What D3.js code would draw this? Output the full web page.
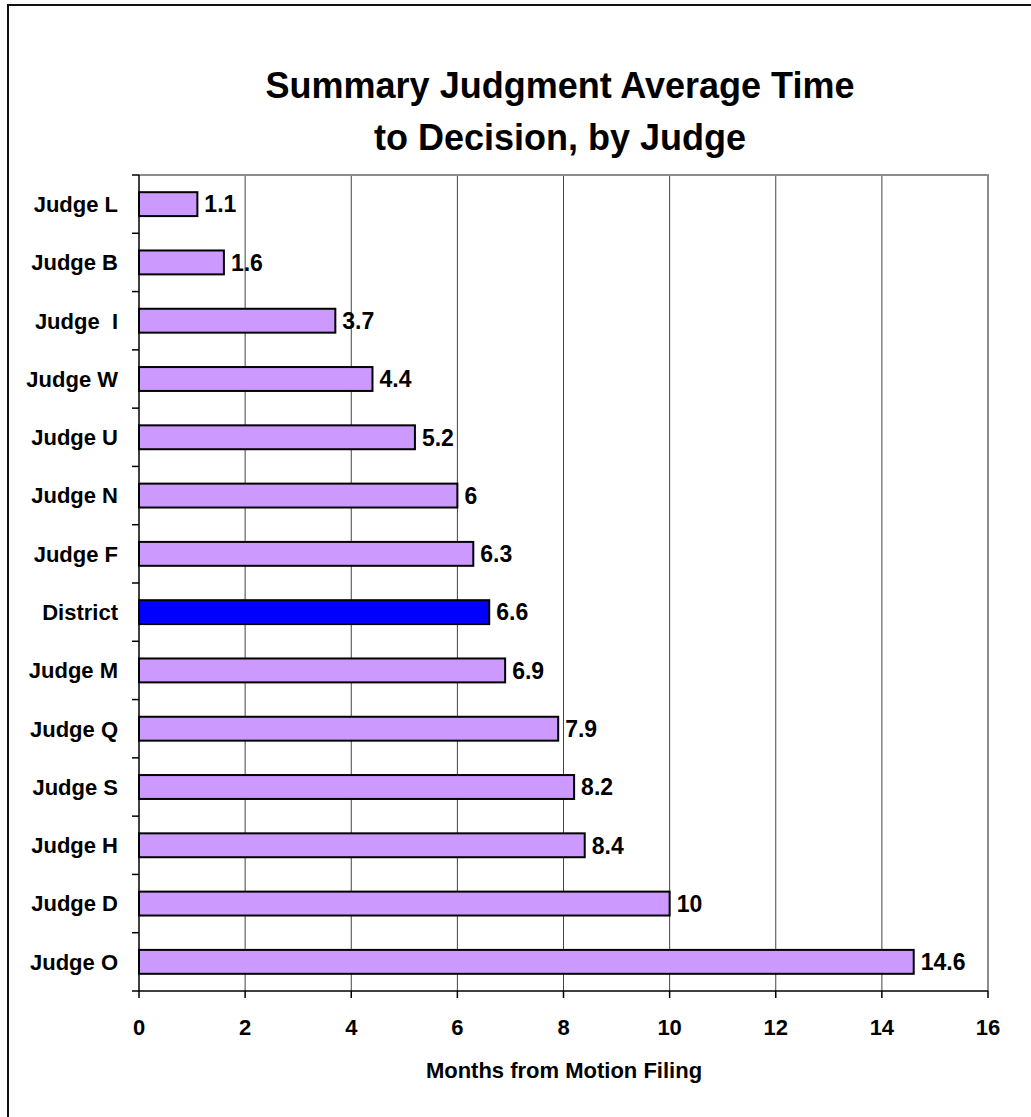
<!DOCTYPE html>
<html><head><meta charset="utf-8">
<script src="https://cdn.jsdelivr.net/npm/d3@7"></script>
<style>body{margin:0;background:#fff;}svg{display:block;font-family:"Liberation Sans",Arial,sans-serif;}</style>
</head><body>
<script>
const categories = ["Judge L","Judge B","Judge  I","Judge W","Judge U","Judge N","Judge F","District","Judge M","Judge Q","Judge S","Judge H","Judge D","Judge O"];
const values = [1.1,1.6,3.7,4.4,5.2,6,6.3,6.6,6.9,7.9,8.2,8.4,10,14.6];
const xTicks = [0,2,4,6,8,10,12,14,16];
const titleLines = ["Summary Judgment Average Time","to Decision, by Judge"];
const xTitle = "Months from Motion Filing";

const W = 1031, H = 1117;
const L = 139, R = 988, T = 175, B = 991;
const svg = d3.select("body").append("svg").attr("width", W).attr("height", H);
svg.append("rect").attr("width", W).attr("height", H).attr("fill", "#fff");
svg.append("rect").attr("x", 8).attr("y", 5).attr("width", W + 20).attr("height", H + 20)
  .attr("fill", "none").attr("stroke", "#111").attr("stroke-width", 2);

const x = d3.scaleLinear().domain([0,16]).range([L,R]);
const y = d3.scaleBand().domain(categories).range([T,B]).paddingInner(0.59).paddingOuter(0.295);
const yb = d3.scaleBand().domain(categories).range([T,B]);

// gridlines
svg.append("g").selectAll("line").data(xTicks.slice(1, -1)).join("line")
  .attr("x1", d => x(d)).attr("x2", d => x(d)).attr("y1", T).attr("y2", B)
  .attr("stroke", "#444").attr("stroke-width", 1);
// plot border top/right
svg.append("path").attr("d", `M${L},${T}H${R}V${B}`).attr("fill","none").attr("stroke","#8c8c8c").attr("stroke-width",2);

// bars
svg.append("g").selectAll("rect").data(categories).join("rect")
  .attr("x", x(0)).attr("y", d => y(d)).attr("height", y.bandwidth())
  .attr("width", (d,i) => x(values[i]) - x(0))
  .attr("fill", d => d === "District" ? "#0000ff" : "#cc99ff")
  .attr("stroke", "#000").attr("stroke-width", 2);

// value labels
svg.append("g").selectAll("text").data(categories).join("text")
  .attr("x", (d,i) => x(values[i]) + 7).attr("y", d => y(d) + y.bandwidth()/2)
  .attr("dy", "0.36em").attr("font-size", 23).attr("font-weight", "bold")
  .text((d,i) => values[i]);

// y axis
const yAxis = svg.append("g");
yAxis.append("line").attr("x1", L).attr("x2", L).attr("y1", T).attr("y2", B).attr("stroke","#000").attr("stroke-width",1.5);
const bounds = categories.map(c => yb(c)).concat([B]);
yAxis.selectAll("line.t").data(bounds).join("line").attr("class","t")
  .attr("x1", L - 7).attr("x2", L).attr("y1", d => d).attr("y2", d => d).attr("stroke","#000").attr("stroke-width",1.5);
yAxis.selectAll("text").data(categories).join("text")
  .attr("x", 118).attr("y", d => yb(d) + yb.bandwidth()/2).attr("dy","0.36em")
  .attr("text-anchor","end").attr("font-size",22).attr("font-weight","bold")
  .style("white-space","pre").attr("xml:space","preserve")
  .text(d => d);

// x axis
const xAxis = svg.append("g");
xAxis.append("line").attr("x1", L).attr("x2", R).attr("y1", B).attr("y2", B).attr("stroke","#000").attr("stroke-width",1.5);
xAxis.selectAll("line.t").data(xTicks).join("line").attr("class","t")
  .attr("x1", d => x(d)).attr("x2", d => x(d)).attr("y1", B).attr("y2", B + 7).attr("stroke","#000").attr("stroke-width",1.5);
xAxis.selectAll("text").data(xTicks).join("text")
  .attr("x", d => x(d)).attr("y", 1035).attr("text-anchor","middle")
  .attr("font-size",22).attr("font-weight","bold").text(d => d);

svg.append("text").attr("x", 564).attr("y", 1078).attr("text-anchor","middle")
  .attr("font-size",22).attr("font-weight","bold").text(xTitle);

svg.append("g").selectAll("text").data(titleLines).join("text")
  .attr("x", 560).attr("y", (d,i) => 98 + i*52).attr("text-anchor","middle")
  .attr("font-size",36).attr("font-weight","bold").text(d => d);
</script>
</body></html>
